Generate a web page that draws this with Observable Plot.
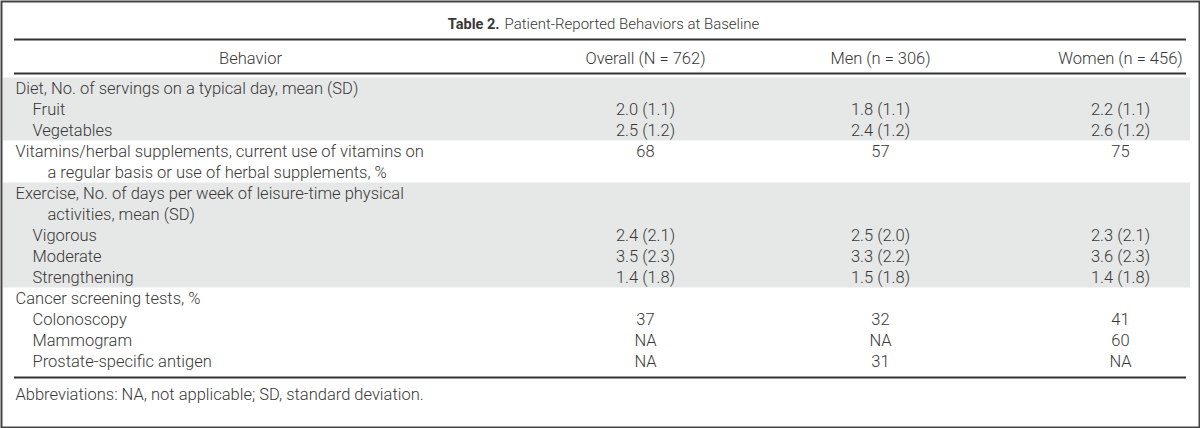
<!DOCTYPE html>
<html><head><meta charset="utf-8">
<script src="https://cdn.jsdelivr.net/npm/d3@7"></script>
<script src="https://cdn.jsdelivr.net/npm/@observablehq/plot@0.6"></script>
<style>body{margin:0;background:#fff}#chart svg{display:block}</style>
</head><body><div id="chart"></div>
<script>
// ---- Data ----
const titleBold = "Table 2.";
const titleText = "Patient-Reported Behaviors at Baseline";
const columns = ["Behavior", "Overall (N = 762)", "Men (n = 306)", "Women (n = 456)"];
const behaviors = [
  ["Diet, No. of servings on a typical day, mean (SD)"],
  ["Fruit"],
  ["Vegetables"],
  ["Vitamins/herbal supplements, current use of vitamins on", "a regular basis or use of herbal supplements, %"],
  ["Exercise, No. of days per week of leisure-time physical", "activities, mean (SD)"],
  ["Vigorous"],
  ["Moderate"],
  ["Strengthening"],
  ["Cancer screening tests, %"],
  ["Colonoscopy"],
  ["Mammogram"],
  ["Prostate-specific antigen"]
];
const indent  = [0, 1, 1, 0, 0, 1, 1, 1, 0, 1, 1, 1];
const section = [0, 0, 0, 1, 2, 2, 2, 2, 3, 3, 3, 3];
const overall = ["", "2.0 (1.1)", "2.5 (1.2)", "68", "", "2.4 (2.1)", "3.5 (2.3)", "1.4 (1.8)", "", "37", "NA", "NA"];
const men     = ["", "1.8 (1.1)", "2.4 (1.2)", "57", "", "2.5 (2.0)", "3.3 (2.2)", "1.5 (1.8)", "", "32", "NA", "31"];
const women   = ["", "2.2 (1.1)", "2.6 (1.2)", "75", "", "2.3 (2.1)", "3.6 (2.3)", "1.4 (1.8)", "", "41", "60", "NA"];
const footnote = "Abbreviations: NA, not applicable; SD, standard deviation.";

// ---- Layout constants ----
const W = 1200, H = 428;
const lineH = 21, bodyTop = 88;
const colX = [250, 645, 880, 1120];
const indentX = [15, 32];
const wrapX = 47;
const font = "Roboto";
const ink = "#383838";
const fs = 16.5;

// Build line-level table (line units)
const labelLines = [], valueCells = [], sections = [];
let line = 0;
behaviors.forEach((lines, i) => {
  lines.forEach((t, k) => labelLines.push({text: t, line: line + k, x: k === 0 ? indentX[indent[i]] : wrapX}));
  [overall, men, women].forEach((col, c) => {
    if (col[i]) valueCells.push({text: col[i], line, x: colX[c + 1]});
  });
  const s = section[i];
  if (!sections[s]) sections[s] = {first: line, last: line + lines.length - 1};
  else sections[s].last = line + lines.length - 1;
  line += lines.length;
});
const bands = sections.filter((d, i) => i % 2 === 0).map(d => ({y1: d.first - 0.5, y2: d.last + 0.5}));
const nLines = line;

const titleLine = -3.05, headerLine = -1.43, topRule = -2.33, headRule = -0.72, bottomRule = nLines - 1 + 0.76, footLine = nLines - 1 + 1.6;
const headers = columns.map((t, i) => ({text: t, x: colX[i], line: headerLine}));

const txt = {fontFamily: font, fontWeight: 300, fontSize: fs, fill: ink};

const chart = Plot.plot({
  width: W, height: H,
  margin: 0,
  x: {domain: [0, W], range: [0, W], axis: null},
  y: {domain: [-bodyTop / lineH, (H - bodyTop) / lineH], range: [0, H], axis: null},
  style: {background: "#fff"},
  marks: [
    Plot.rect(bands, {x1: () => 3, x2: () => 1190, y1: "y1", y2: "y2", fill: "#e6e7e7"}),
    Plot.ruleY([topRule, headRule, bottomRule], {x1: () => 14, x2: () => 1186, stroke: "#333", strokeWidth: 2}),
    Plot.frame({stroke: "#444", strokeWidth: 2, inset: 1}),
    Plot.text([titleBold], {x: () => 499, y: () => titleLine, text: d => d, textAnchor: "end", fontFamily: font, fontWeight: 700, fontSize: 14.5, fill: ink}),
    Plot.text([titleText], {x: () => 504, y: () => titleLine, text: d => d, textAnchor: "start", fontFamily: font, fontWeight: 300, fontSize: 15, fill: ink}),
    Plot.text(headers, {x: "x", y: "line", text: "text", textAnchor: "middle", ...txt}),
    Plot.text(labelLines, {x: "x", y: "line", text: "text", textAnchor: "start", ...txt}),
    Plot.text(valueCells, {x: "x", y: "line", text: "text", textAnchor: "middle", ...txt}),
    Plot.text([footnote], {x: () => 15, y: () => footLine, text: d => d, textAnchor: "start", ...txt})
  ]
});
document.getElementById("chart").append(chart);
</script>
</body></html>
